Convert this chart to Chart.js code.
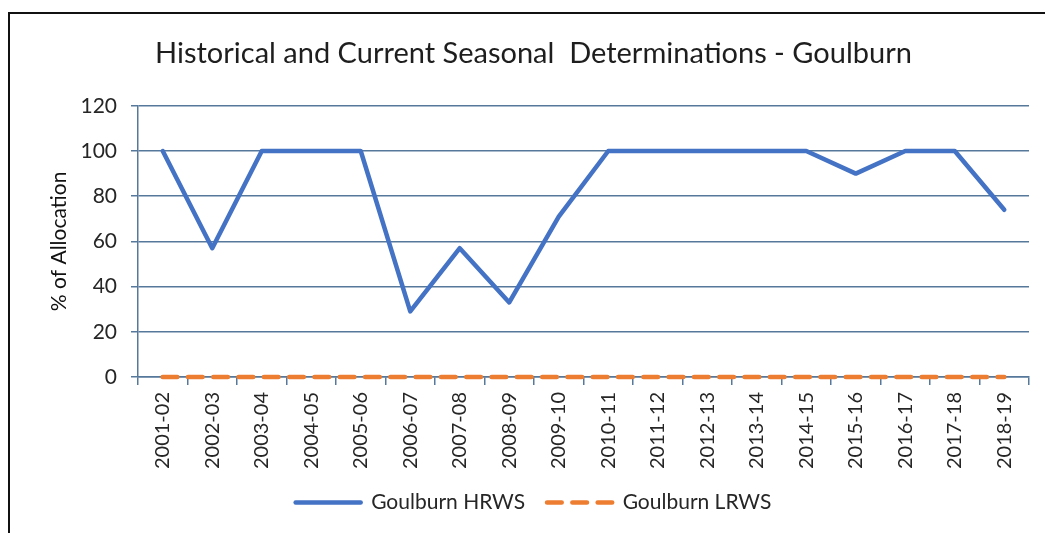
<!DOCTYPE html>
<html>
<head>
<meta charset="utf-8">
<script src="https://cdn.jsdelivr.net/npm/chart.js@4/dist/chart.umd.min.js"></script>
<style>
  html, body { margin: 0; padding: 0; background: #fff; overflow: hidden; }
  #frame { position: absolute; left: 8px; top: 12px; width: 1200px; height: 700px; border: 2px solid #111; }
  #wrap { position: absolute; left: 0; top: 0; width: 1045px; height: 533px; }
</style>
</head>
<body>
<div id="frame"></div>
<div id="wrap"><canvas id="seasonChart"></canvas></div>
<script>
// Seasons on the x axis
const seasons = ['2001-02', '2002-03', '2003-04', '2004-05', '2005-06', '2006-07', '2007-08', '2008-09', '2009-10',
  '2010-11', '2011-12', '2012-13', '2013-14', '2014-15', '2015-16', '2016-17', '2017-18', '2018-19'];

// % of allocation per season
const hrwsValues = [100, 57, 100, 100, 100, 29, 57, 33, 71, 100, 100, 100, 100, 100, 90, 100, 100, 74];
const lrwsValues = [0, 0, 0, 0, 0, 0, 0, 0, 0, 0, 0, 0, 0, 0, 0, 0, 0, 0];

const yTicks = [0, 20, 40, 60, 80, 100, 120];

const axisBlue = '#56789b';
const textColor = '#262626';
const fontFamily = 'Lato, "Open Sans", sans-serif';

const ctx = document.getElementById('seasonChart').getContext('2d');

new Chart(ctx, {
  type: 'line',
  data: {
    labels: seasons,
    datasets: [
      {
        label: 'Goulburn HRWS',
        data: hrwsValues,
        borderColor: '#4472c4',
        backgroundColor: '#4472c4',
        borderWidth: 4.5,
        borderCapStyle: 'round',
        borderJoinStyle: 'round',
        tension: 0,
        pointRadius: 0,
        pointHoverRadius: 0,
        clip: false
      },
      {
        label: 'Goulburn LRWS',
        data: lrwsValues,
        borderColor: '#ed7d31',
        backgroundColor: '#ed7d31',
        borderWidth: 4.7,
        borderDash: [14.5, 10.8],
        borderCapStyle: 'round',
        borderJoinStyle: 'round',
        tension: 0,
        pointRadius: 0,
        pointHoverRadius: 0,
        clip: false
      }
    ]
  },
  options: {
    responsive: true,
    maintainAspectRatio: false,
    animation: false,
    layout: { padding: { left: 38, right: 16, top: 0, bottom: 10 } },
    plugins: {
      title: {
        display: true,
        text: 'Historical and Current Seasonal  Determinations - Goulburn',
        color: '#1e1e1e',
        font: { family: fontFamily, size: 29, weight: 'normal' },
        padding: { top: 36, bottom: 35 }
      },
      legend: {
        position: 'bottom',
        labels: {
          color: textColor,
          font: { family: fontFamily, size: 21 },
          usePointStyle: true,
          pointStyle: 'line',
          pointStyleWidth: 65,
          padding: 22,
          // keep each series' own line style in the legend sample
          generateLabels: (chart) => {
            const items = Chart.defaults.plugins.legend.labels.generateLabels(chart);
            items.forEach(item => {
              const ds = chart.data.datasets[item.datasetIndex];
              item.lineDash = ds.borderDash || [];
              item.lineCap = ds.borderCapStyle;
              item.lineWidth = ds.borderWidth;
              item.strokeStyle = ds.borderColor;
            });
            return items;
          }
        }
      },
      tooltip: { enabled: false }
    },
    scales: {
      x: {
        offset: true,
        afterFit: (scale) => { scale.height = 93; },
        grid: {
          offset: true,
          drawOnChartArea: false,
          tickLength: 8,
          color: axisBlue,
          lineWidth: 1.5
        },
        border: { color: axisBlue, width: 1.5 },
        ticks: {
          color: textColor,
          font: { family: fontFamily, size: 20 },
          minRotation: 90,
          maxRotation: 90,
          autoSkip: false,
          padding: 7
        }
      },
      y: {
        min: 0,
        max: 120,
        afterFit: (scale) => { scale.width = 100; },
        afterBuildTicks: (scale) => { scale.ticks = yTicks.map(v => ({ value: v })); },
        grid: { color: axisBlue, lineWidth: 1.5, tickLength: 7 },
        border: { color: axisBlue, width: 1.5 },
        ticks: {
          color: textColor,
          font: { family: fontFamily, size: 21 },
          padding: 14
        },
        title: {
          display: true,
          text: '% of Allocation',
          color: '#111',
          font: { family: fontFamily, size: 21 },
          padding: { top: 9, bottom: 0 }
        }
      }
    }
  }
});
</script>
</body>
</html>
